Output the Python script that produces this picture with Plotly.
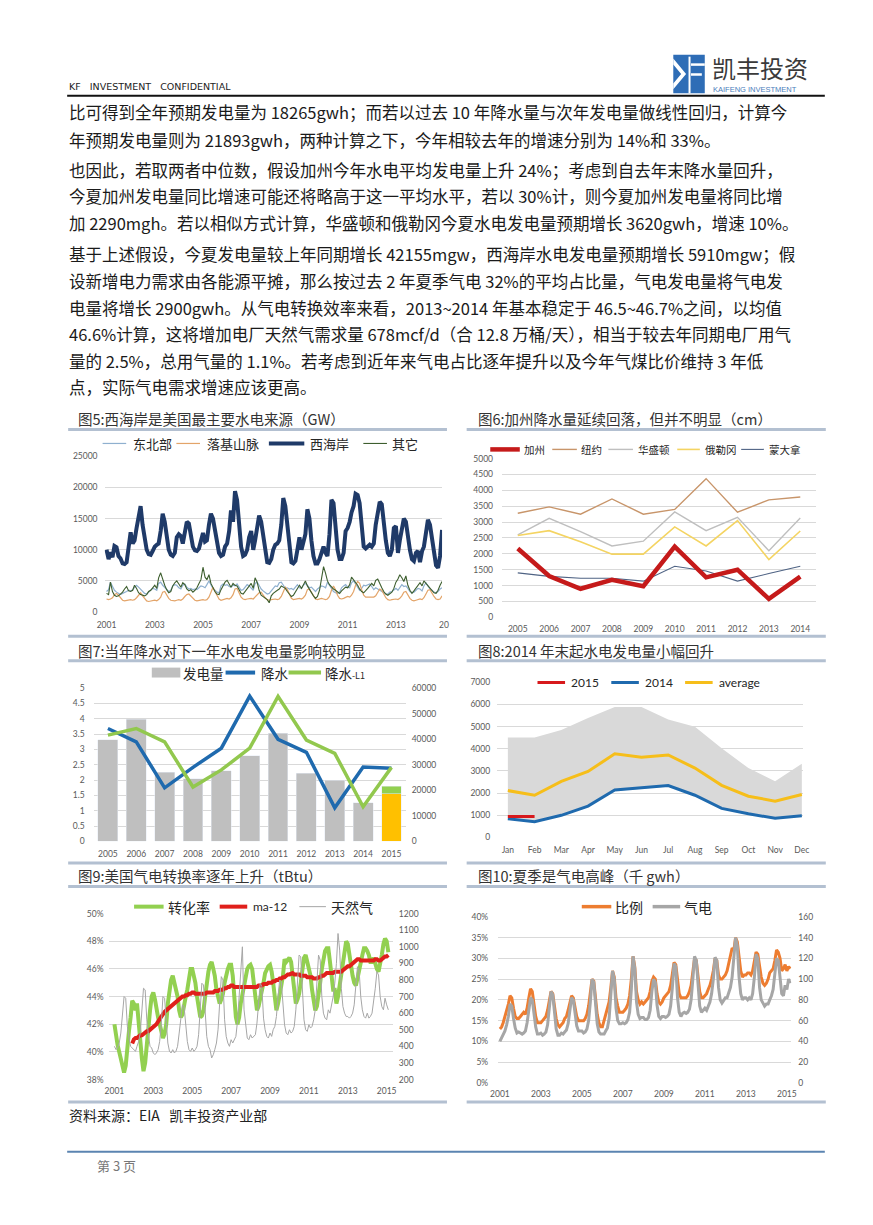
import pandas as pd
import plotly.graph_objects as go

# ---------------- data ----------------
# fig5: monthly hydro output by region, Jan 2001 - Dec 2014
west_coast = [
    10000, 8500, 9600, 8800, 10600, 10400, 9000, 8600, 7800, 7700, 8000, 11000,
    12800, 11000, 11500, 13500, 15500, 17000, 14000, 11500, 10000, 9300, 9200, 9800,
    10500, 10800, 11000, 13000, 15800, 14500, 12000, 10000, 9200, 9000, 9500, 12000,
    12500, 12200, 11000, 12800, 14500, 14200, 12000, 10500, 9900, 9800, 10200, 11500,
    12700, 11300, 11500, 14000, 15800, 15000, 13000, 11000, 9500, 9000, 9200, 10500,
    11000, 13000, 16300, 14500, 19400, 18000, 13500, 10500, 9000, 9200, 10000, 12000,
    13000, 10000, 11500, 14000, 15500, 14500, 12000, 10000, 8000, 7900, 8500, 10000,
    10800, 11000, 11500, 14000, 18300, 17000, 13500, 10000, 8000, 7800, 8200, 10000,
    12000, 10000, 11000, 12500, 16500, 15000, 11500, 9000, 7800, 7800, 8500, 9500,
    10500, 9500, 9000, 12500, 18000, 17500, 13000, 10000, 8500, 8500, 9500, 13000,
    13500, 14500, 16000, 17000, 19000, 18800, 17500, 13500, 10500, 10200, 10500, 10800,
    10500, 11000, 14000, 16000, 17700, 17300, 14000, 11500, 9500, 9000, 10000, 13500,
    13800, 9500, 11500, 13500, 15000, 14500, 12000, 10000, 8500, 8200, 9500, 9800,
    8000, 9800, 10500, 13000, 14800, 14000, 12000, 9500, 7500, 7100, 9000, 13200,
]
northeast = [
    3300, 3600, 4800, 4200, 3500, 3200, 3000, 2800, 3000, 3100, 3300, 3500,
    3400, 3600, 4000, 4300, 4000, 3600, 3300, 3000, 2900, 3200, 3600, 3800,
    3700, 3500, 4600, 4800, 4300, 4000, 3600, 3300, 3500, 4200, 4400, 4300,
    3900, 3700, 4300, 4500, 4000, 3700, 3800, 3600, 3700, 3600, 3900, 4200,
    4100, 3900, 4400, 5000, 4400, 3800, 3500, 3200, 3100, 4200, 4500, 4300,
    4400, 4100, 4000, 4300, 4200, 4500, 4000, 3500, 3600, 4000, 4400, 4200,
    3900, 3500, 4600, 4800, 4300, 3700, 3400, 3100, 2900, 3000, 3400, 3800,
    4200, 4100, 4700, 4800, 4200, 3800, 3900, 3700, 3800, 3600, 4000, 4400,
    3900, 3800, 4300, 4600, 4300, 3900, 4000, 3700, 3300, 3700, 3900, 4200,
    4100, 3900, 4800, 4300, 3700, 3300, 3100, 3000, 3200, 3900, 4200, 4400,
    4000, 3900, 4700, 5000, 4500, 3900, 3500, 3800, 4300, 4200, 4300, 4500,
    4100, 3600, 3900, 3700, 3500, 3300, 3000, 2900, 2900, 3200, 3300, 3600,
    3800, 3500, 4000, 4400, 4100, 4200, 3800, 3300, 3100, 3200, 3500, 3800,
    3700, 3400, 4200, 4700, 4200, 3700, 3500, 3200, 3100, 3300, 3700, 3900,
]
rockies = [
    2100, 2000, 2100, 2300, 2800, 3000, 2700, 2300, 1900, 1800, 1900, 2000,
    2000, 1900, 2000, 2300, 2700, 3100, 2600, 2100, 1800, 1700, 1800, 1900,
    1900, 1800, 2000, 2400, 3200, 3300, 2700, 2200, 1900, 1800, 1800, 1900,
    2000, 1900, 2100, 2500, 2800, 2900, 2600, 2200, 1900, 1800, 1900, 2000,
    2000, 1900, 2000, 2400, 3300, 4000, 3300, 2600, 2100, 1900, 2000, 2100,
    2200, 2100, 2300, 2800, 3700, 3800, 3000, 2400, 2100, 2000, 2100, 2200,
    2200, 2100, 2400, 2700, 3100, 3200, 2700, 2300, 2000, 1900, 2000, 2100,
    2100, 2000, 2100, 2500, 3400, 4000, 3600, 2800, 2200, 2000, 2100, 2200,
    2200, 2100, 2300, 2700, 3600, 3700, 3100, 2500, 2100, 2000, 2100, 2200,
    2100, 2000, 2100, 2500, 3500, 4200, 3600, 2700, 2200, 2100, 2200, 2300,
    2500, 2400, 2700, 3300, 4300, 4900, 4600, 3600, 2700, 2400, 2400, 2500,
    2500, 2400, 2600, 3200, 3700, 3500, 2800, 2300, 2000, 1900, 2000, 2100,
    2100, 2000, 2200, 2600, 3200, 3300, 2700, 2200, 1900, 1800, 1900, 2000,
    2100, 2000, 2300, 2900, 3500, 3600, 3000, 2500, 2100, 2000, 2100, 2600,
]
other_regions = [
    3000, 2800, 4800, 3300, 2700, 2500, 2600, 2900, 3200, 3700, 4100, 3400,
    3300, 3500, 4300, 3800, 3100, 2800, 2700, 2600, 2800, 3300, 3500, 3900,
    4300, 3800, 5500, 6300, 5200, 4300, 3600, 3100, 3300, 4200, 4700, 5000,
    4500, 4000, 4700, 4400, 3700, 3400, 3600, 3200, 3500, 3900, 4600, 5200,
    7200, 5600, 5200, 6000, 4600, 3900, 3300, 2900, 2800, 3600, 4300, 4800,
    5100, 4500, 4000, 4600, 4300, 4200, 3700, 3000, 2900, 3300, 3900, 4300,
    4600, 3800, 5500, 4800, 3500, 2700, 2500, 2300, 2000, 1500, 2600, 3000,
    3300, 3500, 3700, 4200, 4000, 3800, 3300, 2800, 2500, 2700, 3300, 3800,
    4300, 3800, 4400, 5000, 4200, 3600, 3100, 2600, 2200, 2500, 3500, 5500,
    7300, 6200, 5000, 4400, 4000, 3700, 3500, 3200, 3000, 3400, 3700, 4000,
    3900, 4400, 5600, 5200, 4800, 4300, 3700, 3300, 3100, 3400, 3800, 4200,
    4600, 4200, 5100, 5300, 4500, 3900, 3300, 2900, 2700, 2900, 3200, 3800,
    4800, 5300, 6000, 5500, 4900, 5800, 4300, 3500, 3000, 3400, 3800, 4300,
    4700, 4200, 5000, 4600, 4200, 3800, 3500, 3100, 3000, 3500, 4300, 4900,
]

# fig6: annual precipitation by state
years6 = ["2005", "2006", "2007", "2008", "2009", "2010", "2011", "2012", "2013", "2014"]
california = [2170, 1300, 900, 1180, 980, 2230, 1260, 1500, 580, 1280]
new_york = [3280, 3480, 3250, 3730, 3250, 3400, 4370, 3310, 3700, 3790]
washington = [2600, 3120, 2700, 2250, 2400, 3320, 2730, 3150, 2100, 3130]
oregon = [2580, 2730, 2380, 1990, 1990, 2850, 2250, 3050, 1820, 2720]
montana = [1400, 1290, 1230, 1230, 1140, 1610, 1460, 1140, 1380, 1610]

# fig7: generation vs precipitation
years7 = ["2005", "2006", "2007", "2008", "2009", "2010", "2011", "2012", "2013", "2014", "2015"]
generation = [3.31, 3.99, 2.26, 2.04, 2.31, 2.80, 3.53, 2.23, 1.99, 1.26, None]
gen_2015_base = [None] * 10 + [1.55]
gen_2015_top = [None] * 10 + [0.25]
precip = [44200, 39000, 21000, 29000, 36500, 56900, 40000, 34900, 13200, 29100, 28700]
precip_l1 = [41600, 44200, 39000, 21300, 28000, 36500, 56800, 39700, 34500, 13600, 29000]

# fig8: monthly hydro generation
months8 = ["Jan", "Feb", "Mar", "Apr", "May", "Jun", "Jul", "Aug", "Sep", "Oct", "Nov", "Dec"]
range_max = [4510, 4510, 4840, 5390, 5880, 5880, 5320, 4990, 4020, 3130, 2530, 3320]
range_min = [820, 700, 980, 1400, 2100, 2200, 2300, 1880, 1290, 1050, 850, 960]
gen_2014 = [850, 715, 1000, 1415, 2145, 2235, 2340, 1905, 1310, 1070, 865, 985]
gen_avg = [2115, 1905, 2530, 2980, 3770, 3620, 3720, 3130, 2350, 1860, 1640, 1940]
gen_2015 = [950, 950]

# fig9: gas-fired conversion efficiency (%), Jan 2001 - Feb 2015
conv_rate = [
    42.0, 41.0, 40.5, 40.0, 39.5, 39.0, 38.5, 39.0, 40.5, 41.5, 42.5, 43.7,
    43.5, 43.0, 43.5, 42.0, 40.5, 39.5, 38.6, 39.2, 40.5, 42.0, 43.0, 44.0,
    44.3, 43.8, 43.0, 42.5, 42.0, 41.5, 41.0, 41.3, 42.0, 43.5, 44.5, 45.2,
    45.5, 45.0, 44.5, 44.0, 43.0, 42.5, 42.7, 43.2, 44.0, 44.5, 45.5, 46.0,
    46.0, 45.5, 45.0, 44.0, 43.0, 42.5, 42.6, 43.0, 44.0, 45.0, 45.8, 46.3,
    46.5, 46.0, 45.5, 44.5, 43.8, 43.5, 43.8, 44.2, 45.0, 45.6, 46.0, 46.3,
    46.3, 45.5, 44.0, 42.5, 42.0, 42.5, 43.5, 44.2, 45.0, 45.5, 46.0, 46.2,
    46.3, 46.0, 45.0, 44.0, 43.0, 43.3, 43.8, 44.5, 45.0, 45.7, 46.0, 46.2,
    46.3, 45.8, 45.0, 44.0, 43.0, 43.5, 44.0, 44.8, 45.5, 46.7, 46.5, 46.6,
    46.8, 46.5, 45.5, 44.5, 43.5, 43.8, 44.2, 45.0, 46.0, 46.8, 47.0, 46.5,
    46.0, 45.5, 44.5, 43.5, 43.0, 43.3, 44.0, 45.0, 46.0, 46.8, 47.3, 47.5,
    47.5, 46.5, 45.5, 44.5, 44.5, 43.5, 44.0, 44.8, 45.8, 46.8, 47.5, 48.0,
    47.8, 47.0, 46.0, 45.5, 45.0, 44.8, 45.3, 46.0, 46.5, 47.0, 47.5, 47.5,
    47.3, 47.0, 46.5, 46.5, 46.8, 46.3, 46.0, 45.8, 46.3, 47.0, 47.8, 48.2,
    48.0, 47.2,
]
# 12-month average, Dec 2001 - Feb 2015
ma12 = [
    40.6,
    40.9, 41.0, 41.0, 41.1, 41.2, 41.2, 41.3, 41.4, 41.5, 41.5, 41.6, 41.7,
    41.8, 41.9, 42.0, 42.2, 42.4, 42.6, 42.7, 42.9, 43.0, 43.1, 43.2, 43.3,
    43.4, 43.5, 43.6, 43.7, 43.8, 43.9, 44.0, 44.0, 44.1, 44.1, 44.2, 44.2,
    44.3, 44.3, 44.2, 44.2, 44.2, 44.2, 44.2, 44.2, 44.2, 44.3, 44.3, 44.3,
    44.3, 44.3, 44.4, 44.4, 44.4, 44.5, 44.5, 44.5, 44.6, 44.6, 44.7, 44.7,
    44.8, 44.8, 44.7, 44.7, 44.7, 44.7, 44.7, 44.7, 44.7, 44.7, 44.7, 44.7,
    44.7, 44.7, 44.7, 44.7, 44.7, 44.8, 44.8, 44.8, 44.9, 44.9, 44.9, 45.0,
    45.0, 45.0, 45.1, 45.1, 45.2, 45.2, 45.3, 45.3, 45.4, 45.4, 45.5, 45.6,
    45.6, 45.7, 45.7, 45.6, 45.6, 45.6, 45.6, 45.5, 45.5, 45.5, 45.5, 45.4,
    45.4, 45.4, 45.4, 45.3, 45.3, 45.3, 45.4, 45.4, 45.5, 45.5, 45.6, 45.7,
    45.7, 45.7, 45.7, 45.7, 45.8, 45.8, 45.8, 45.8, 45.8, 45.9, 46.0, 46.1,
    46.2, 46.2, 46.3, 46.4, 46.5, 46.6, 46.7, 46.7, 46.6, 46.6, 46.6, 46.6,
    46.6, 46.6, 46.6, 46.6, 46.6, 46.7, 46.7, 46.6, 46.6, 46.7, 46.8, 46.9,
    46.9, 47.0,
]
# gas burn for power (tBtu), Jan 2001 - Feb 2015
gas_burn = [
    400, 380, 390, 420, 480, 580, 700, 690, 520, 450, 400, 390,
    380, 370, 400, 430, 480, 620, 750, 740, 560, 470, 400, 390,
    360, 350, 360, 380, 430, 540, 700, 690, 520, 420, 370, 360,
    380, 360, 370, 400, 480, 560, 650, 640, 520, 430, 380, 370,
    390, 370, 380, 400, 470, 620, 780, 770, 580, 460, 400, 380,
    330, 350, 380, 420, 500, 650, 820, 800, 560, 460, 420, 400,
    440, 420, 440, 460, 550, 700, 850, 1000, 620, 520, 450, 440,
    470, 450, 460, 470, 540, 660, 780, 760, 570, 500, 460, 450,
    480, 460, 500, 520, 580, 700, 800, 790, 620, 530, 480, 470,
    500, 480, 490, 520, 620, 800, 950, 940, 700, 560, 500, 490,
    530, 510, 520, 560, 620, 800, 950, 920, 700, 600, 570, 560,
    620, 600, 640, 700, 780, 900, 1080, 980, 750, 640, 600, 580,
    580, 570, 580, 600, 650, 760, 880, 860, 700, 620, 580, 570,
    600, 570, 580, 600, 660, 750, 850, 830, 700, 640, 620, 690,
    650, 620,
]

# fig10: gas share of generation (%) and gas generation (k gwh), Jan 2001 - Mar 2015
gas_share = [
    13.0, 13.5, 14.5, 16.0, 17.0, 19.0, 21.0, 20.5, 18.0, 16.0, 15.5, 15.5,
    16.0, 16.5, 17.0, 16.5, 18.0, 20.5, 22.7, 22.0, 18.5, 16.0, 14.5, 14.5,
    14.5, 15.0, 15.5, 16.0, 17.5, 19.5, 22.0, 21.5, 18.0, 15.5, 14.0, 13.5,
    14.0, 14.5, 15.5, 16.0, 17.5, 19.0, 21.0, 20.5, 18.0, 16.0, 15.0, 15.0,
    15.0, 15.0, 15.5, 16.5, 18.5, 22.0, 25.0, 24.5, 20.0, 16.5, 14.5, 13.5,
    13.5, 15.0, 16.0, 17.5, 19.5, 23.0, 27.0, 25.5, 20.5, 18.5, 17.0, 17.0,
    17.0, 17.5, 18.0, 19.0, 21.0, 25.0, 30.5, 28.0, 22.0, 20.0, 19.0, 19.5,
    19.0, 19.5, 20.0, 20.5, 22.0, 24.5, 25.5, 25.0, 21.5, 19.5, 19.0, 19.5,
    20.5, 21.0, 21.5, 22.0, 23.5, 26.0, 29.0, 28.5, 24.0, 21.5, 20.5, 20.5,
    20.5, 20.5, 21.0, 22.0, 23.5, 26.5, 30.0, 29.5, 25.0, 22.0, 20.5, 20.5,
    21.0, 21.5, 22.5, 23.5, 25.0, 27.0, 30.0, 29.5, 26.0, 25.0, 25.0, 25.5,
    26.0, 27.0, 29.0, 31.0, 32.5, 32.0, 35.0, 34.0, 30.0, 27.0, 25.5, 26.0,
    26.0, 26.5, 26.5, 26.0, 27.0, 29.0, 31.5, 31.0, 28.0, 25.5, 24.0, 23.5,
    24.0, 25.0, 26.5, 27.0, 27.5, 29.5, 32.0, 31.5, 30.0, 27.0, 27.5, 28.5,
    27.0, 28.0, 27.5,
]
gas_gen = [
    40, 43, 46, 50, 56, 64, 76, 74, 62, 53, 48, 49,
    48, 47, 48, 50, 58, 68, 82, 80, 65, 54, 47, 47,
    48, 46, 47, 49, 56, 70, 88, 85, 64, 52, 46, 46,
    48, 47, 49, 51, 57, 68, 82, 80, 64, 55, 50, 50,
    50, 48, 49, 52, 60, 78, 100, 97, 74, 57, 49, 47,
    47, 47, 50, 53, 62, 82, 108, 100, 72, 60, 57, 57,
    58, 57, 58, 61, 68, 90, 122, 110, 78, 66, 62, 63,
    63, 61, 61, 63, 70, 88, 100, 97, 75, 64, 62, 64,
    64, 63, 64, 66, 74, 92, 115, 112, 82, 68, 64, 67,
    68, 67, 68, 71, 80, 100, 122, 118, 90, 74, 68, 70,
    72, 70, 74, 78, 86, 100, 121, 118, 92, 80, 77, 80,
    82, 82, 88, 92, 102, 118, 140, 132, 102, 86, 80, 82,
    82, 80, 82, 80, 86, 102, 124, 120, 92, 80, 76, 74,
    76, 76, 80, 84, 90, 104, 120, 118, 100, 86, 84, 94,
    90, 100, 96,
]

body_lines = [
    "比可得到全年预期发电量为 18265gwh；而若以过去 10 年降水量与次年发电量做线性回归，计算今",
    "年预期发电量则为 21893gwh，两种计算之下，今年相较去年的增速分别为 14%和 33%。",
    "也因此，若取两者中位数，假设加州今年水电平均发电量上升 24%；考虑到自去年末降水量回升，",
    "今夏加州发电量同比增速可能还将略高于这一平均水平，若以 30%计，则今夏加州发电量将同比增",
    "加 2290mgh。若以相似方式计算，华盛顿和俄勒冈今夏水电发电量预期增长 3620gwh，增速 10%。",
    "基于上述假设，今夏发电量较上年同期增长 42155mgw，西海岸水电发电量预期增长 5910mgw；假",
    "设新增电力需求由各能源平摊，那么按过去 2 年夏季气电 32%的平均占比量，气电发电量将气电发",
    "电量将增长 2900gwh。从气电转换效率来看，2013~2014 年基本稳定于 46.5~46.7%之间，以均值",
    "46.6%计算，这将增加电厂天然气需求量 678mcf/d（合 12.8 万桶/天），相当于较去年同期电厂用气",
    "量的 2.5%，总用气量的 1.1%。若考虑到近年来气电占比逐年提升以及今年气煤比价维持 3 年低",
    "点，实际气电需求增速应该更高。",
]
body_y = [100, 128, 158, 185, 212, 243, 270, 297, 324, 351, 377]

# ---------------- page helpers ----------------
W, H = 873, 1225
CJK = "Noto Sans CJK SC"
NUM = "Lato"
FRAME = "#B3C0D1"
GRID = "#D9D9D9"
TICK = dict(family=NUM, size=8.5, color="#595959")


def px(x):
    return x / W


def py(y):
    return 1 - y / H


shapes = []
annotations = []


def hline(x0, x1, y, color, width):
    shapes.append(dict(type="line", xref="paper", yref="paper", x0=px(x0), x1=px(x1),
                       y0=py(y), y1=py(y), line=dict(color=color, width=width)))


def text(x, y, s, size, color="#222222", family=CJK, anchor="left"):
    annotations.append(dict(text=s, x=px(x), y=py(y), xref="paper", yref="paper",
                            xanchor=anchor, yanchor="middle", showarrow=False,
                            font=dict(family=family, size=size, color=color)))


def key(x0, x1, y, color, width, label, tx, size, family=CJK):
    hline(x0, x1, y, color, width)
    text(tx, y, label, size, "#262626", family)


fig = go.Figure()

# ---------------- fig5 ----------------
m5 = pd.date_range("2001-01-01", periods=len(west_coast), freq="MS")
for vals, col, w in [(northeast, "#8FB0CF", 1.2), (rockies, "#E3A469", 1.2),
                     (other_regions, "#3D5E2E", 1.1), (west_coast, "#1F3A68", 4)]:
    fig.add_trace(go.Scatter(x=m5, y=vals, mode="lines", line=dict(color=col, width=w),
                             xaxis="x", yaxis="y", showlegend=False))

# ---------------- fig6 ----------------
for vals, col, w in [(new_york, "#C8956A", 1.4), (washington, "#BFBFBF", 1.4),
                     (oregon, "#F4D462", 1.6), (montana, "#4F6384", 1.1),
                     (california, "#C51A1A", 4.5)]:
    fig.add_trace(go.Scatter(x=years6, y=vals, mode="lines", line=dict(color=col, width=w),
                             xaxis="x2", yaxis="y2", showlegend=False))

# ---------------- fig7 ----------------
fig.add_trace(go.Bar(x=years7, y=generation, marker_color="#BFBFBF", xaxis="x3", yaxis="y3",
                     showlegend=False))
fig.add_trace(go.Bar(x=years7, y=gen_2015_base, marker_color="#FFC000", xaxis="x3", yaxis="y3",
                     showlegend=False))
fig.add_trace(go.Bar(x=years7, y=gen_2015_top, marker_color="#92D050", xaxis="x3", yaxis="y3",
                     showlegend=False))
fig.add_trace(go.Scatter(x=years7, y=precip, mode="lines", line=dict(color="#1F6AAE", width=3.5),
                         xaxis="x3", yaxis="y4", showlegend=False))
fig.add_trace(go.Scatter(x=years7, y=precip_l1, mode="lines", line=dict(color="#92C84E", width=3.5),
                         xaxis="x3", yaxis="y4", showlegend=False))

# ---------------- fig8 ----------------
fig.add_trace(go.Scatter(x=months8, y=range_min, mode="lines", line=dict(width=0),
                         xaxis="x4", yaxis="y5", showlegend=False))
fig.add_trace(go.Scatter(x=months8, y=range_max, mode="lines", line=dict(width=0),
                         fill="tonexty", fillcolor="#D9D9D9", xaxis="x4", yaxis="y5",
                         showlegend=False))
fig.add_trace(go.Scatter(x=months8, y=gen_avg, mode="lines", line=dict(color="#F6BE1A", width=3),
                         xaxis="x4", yaxis="y5", showlegend=False))
fig.add_trace(go.Scatter(x=months8, y=gen_2014, mode="lines", line=dict(color="#1F6AAE", width=3),
                         xaxis="x4", yaxis="y5", showlegend=False))
fig.add_trace(go.Scatter(x=months8[:len(gen_2015)], y=gen_2015, mode="lines",
                         line=dict(color="#D7191C", width=3), xaxis="x4", yaxis="y5",
                         showlegend=False))

# ---------------- fig9 ----------------
m9 = pd.date_range("2001-01-01", periods=len(conv_rate), freq="MS")
m9ma = pd.date_range("2001-12-01", periods=len(ma12), freq="MS")
fig.add_trace(go.Scatter(x=m9, y=gas_burn, mode="lines", line=dict(color="#A6A6A6", width=1),
                         xaxis="x5", yaxis="y7", showlegend=False))
fig.add_trace(go.Scatter(x=m9, y=conv_rate, mode="lines", line=dict(color="#92D050", width=4),
                         xaxis="x5", yaxis="y6", showlegend=False))
fig.add_trace(go.Scatter(x=m9ma, y=ma12, mode="lines", line=dict(color="#E0201B", width=4),
                         xaxis="x5", yaxis="y6", showlegend=False))

# ---------------- fig10 ----------------
m10 = pd.date_range("2001-01-01", periods=len(gas_share), freq="MS")
fig.add_trace(go.Scatter(x=m10, y=gas_share, mode="lines", line=dict(color="#ED7D31", width=3),
                         xaxis="x6", yaxis="y8", showlegend=False))
fig.add_trace(go.Scatter(x=m10, y=gas_gen, mode="lines", line=dict(color="#A6A6A6", width=3),
                         xaxis="x6", yaxis="y9", showlegend=False))


# ---------------- axes ----------------
def xax(l, r, **kw):
    d = dict(domain=[px(l), px(r)], showgrid=False, zeroline=False, showline=False,
             ticks="", tickfont=TICK, fixedrange=True)
    d.update(kw)
    return d


def yax(top, bottom, rng, dtick, grid=True, **kw):
    d = dict(domain=[py(bottom), py(top)], range=rng, dtick=dtick, showgrid=grid,
             gridcolor=GRID, gridwidth=1, zeroline=False, showline=False, ticks="",
             tickfont=TICK, fixedrange=True)
    d.update(kw)
    return d


odd_years = lambda a, b: [f"{y}-01-01" for y in range(a, b + 1, 2)]
odd_text = lambda a, b: [str(y) for y in range(a, b + 1, 2)]

fig.update_layout(
    width=W, height=H, margin=dict(l=0, r=0, t=0, b=0),
    paper_bgcolor="white", plot_bgcolor="rgba(0,0,0,0)",
    barmode="stack", bargap=0.3,
    xaxis=xax(90, 433, type="date", range=["2000-12-02", "2014-12-01"], anchor="y",
              tickvals=odd_years(2001, 2013), ticktext=odd_text(2001, 2013), ticklabelstandoff=6),
    yaxis=yax(447, 604, [0, 25000], 5000, anchor="x", tickformat="d", ticklabelstandoff=6),
    xaxis2=xax(494, 813, type="category", range=[-0.5, 9.5], anchor="y2", ticklabelstandoff=5),
    yaxis2=yax(449.3, 609.3, [0, 5000], 500, anchor="x2", tickformat="d", ticklabelstandoff=8),
    xaxis3=xax(79, 396, type="category", range=[-0.5, 10.5], anchor="y3", ticklabelstandoff=6),
    yaxis3=yax(680.7, 835.3, [0, 5], 0.5, anchor="x3", ticklabelstandoff=8),
    yaxis4=yax(680.7, 835.3, [0, 60000], 10000, grid=False, anchor="x3", overlaying="y3",
               side="right", tickformat="d", ticklabelstandoff=5),
    xaxis4=xax(489, 800, type="category", range=[-0.4, 11.05], anchor="y5", ticklabelstandoff=6),
    yaxis5=yax(674.7, 831.3, [0, 7000], 1000, anchor="x4", tickformat="d", ticklabelstandoff=6),
    xaxis5=xax(95, 383, type="date", range=["2000-09-30", "2015-04-27"], anchor="y6",
               tickvals=odd_years(2001, 2015), ticktext=odd_text(2001, 2015), ticklabelstandoff=5),
    yaxis6=yax(908, 1075.3, [38, 50], 2, anchor="x5", ticksuffix="%", ticklabelstandoff=5),
    yaxis7=yax(908, 1075.3, [200, 1200], 100, grid=False, anchor="x5", overlaying="y6",
               side="right", tickformat="d", ticklabelstandoff=5),
    xaxis6=xax(490, 788, type="date", range=["2000-12-01", "2015-03-22"], anchor="y8",
               tickvals=odd_years(2001, 2015), ticktext=odd_text(2001, 2015), ticklabelstandoff=5),
    yaxis8=yax(911.3, 1078.7, [0, 40], 5, anchor="x6", ticksuffix="%", ticklabelstandoff=9),
    yaxis9=yax(911.3, 1078.7, [0, 160], 20, grid=False, anchor="x6", overlaying="y8",
               side="right", tickformat="d", ticklabelstandoff=6),
)

# ---------------- page furniture ----------------
# header
text(52, 74, "KF\u00a0\u00a0 INVESTMENT\u00a0\u00a0 CONFIDENTIAL", 9.5, "#222222", "DejaVu Sans")
hline(52, 822, 83.5, "#111111", 2)
shapes.append(dict(type="rect", xref="paper", yref="paper", x0=px(668), x1=px(700),
                   y0=py(81), y1=py(42), fillcolor="#2E6DB6", line=dict(width=0)))
shapes.append(dict(type="path", xref="paper", yref="paper",
                   path=f"M{px(668)},{py(46)} L{px(681)},{py(61.5)} L{px(668)},{py(77)} "
                        f"L{px(668)},{py(71)} L{px(676)},{py(61.5)} L{px(668)},{py(52)} Z",
                   fillcolor="white", line=dict(width=0)))
shapes.append(dict(type="line", xref="paper", yref="paper", x0=px(684.5), x1=px(684.5),
                   y0=py(44), y1=py(81), line=dict(color="white", width=2)))
hline(686, 700, 52, "white", 2.5)
hline(686, 697, 62, "white", 2.5)
text(705, 54.5, "凯丰投资", 24, "#3A3A3A")
text(706, 77.5, "KAIFENG INVESTMENT", 7.5, "#4A7EBB", "Liberation Sans")

# body text
for yy, line in zip(body_y, body_lines):
    text(52, yy, line, 16.5, "#1A1A1A")

# chart frames and titles
for l, r in [(53, 438), (458, 823)]:
    for yy in [420, 628.5, 653, 857, 880.7, 1098]:
        hline(l, r, yy, FRAME, 3)
text(61, 408.5, "图5:西海岸是美国最主要水电来源（GW）", 14.5, "#333333")
text(468, 409, "图6:加州降水量延续回落，但并不明显（cm）", 14.5, "#333333")
text(61, 643, "图7:当年降水对下一年水电发电量影响较明显", 14.5, "#333333")
text(468, 643, "图8:2014 年末起水电发电量小幅回升", 14.5, "#333333")
text(61, 869.7, "图9:美国气电转换率逐年上升（tBtu）", 14.5, "#333333")
text(468, 869.7, "图10:夏季是气电高峰（千 gwh）", 14.5, "#333333")

# chart 5 clipped last tick label
text(428, 617, "20", 8.5, "#595959", NUM)

# legends
key(88, 112, 434, "#8FB0CF", 1.2, "东北部", 117, 13)
key(163, 187, 434, "#E3A469", 1.2, "落基山脉", 192, 13)
key(257, 293, 434, "#1F3A68", 4, "西海岸", 297, 13)
key(353, 377, 434, "#3D5E2E", 1.1, "其它", 380, 13)

key(482, 512, 440, "#C51A1A", 4.5, "加州", 514, 10.5)
key(545, 570, 440, "#C8956A", 1.4, "纽约", 572, 10.5)
key(602, 627, 440, "#BFBFBF", 1.4, "华盛顿", 630, 10.5)
key(672, 695, 440, "#F4D462", 1.6, "俄勒冈", 698, 10.5)
key(737, 760, 440, "#4F6384", 1.1, "蒙大拿", 763, 10.5)

shapes.append(dict(type="rect", xref="paper", yref="paper", x0=px(138), x1=px(167),
                   y0=py(670), y1=py(660), fillcolor="#BFBFBF", line=dict(width=0)))
text(168, 665, "发电量", 13.5, "#262626")
key(213, 243, 665, "#1F6AAE", 4, "降水", 247, 13.5)
key(277, 310, 665, "#92C84E", 4, "降水<span style='font-size:9px'>-L1</span>", 312, 13.5)

key(530, 558, 675, "#D7191C", 3, "2015", 562, 12, NUM)
key(605, 633, 675, "#1F6AAE", 3, "2014", 637, 12, NUM)
key(680, 708, 675, "#F6BE1A", 3, "average", 712, 12, NUM)

key(120, 150, 901, "#92D050", 4, "转化率", 152, 14)
key(207, 235, 901, "#E0201B", 4, "ma-12", 239, 12, NUM)
key(288, 315, 901, "#A6A6A6", 1, "天然气", 318, 14)

key(575, 605, 901, "#ED7D31", 3.5, "比例", 607, 14)
key(647, 675, 901, "#A6A6A6", 3.5, "气电", 677, 14)

# footer
text(52, 1111, "资料来源：EIA\u00a0\u00a0 凯丰投资产业部", 14, "#222222")
hline(52, 822, 1148, "#5B84B1", 2)
text(80, 1162, "第 3 页", 13, "#777777")

fig.update_layout(shapes=shapes, annotations=annotations)
fig.write_html("out.html", config={"displayModeBar": False})
